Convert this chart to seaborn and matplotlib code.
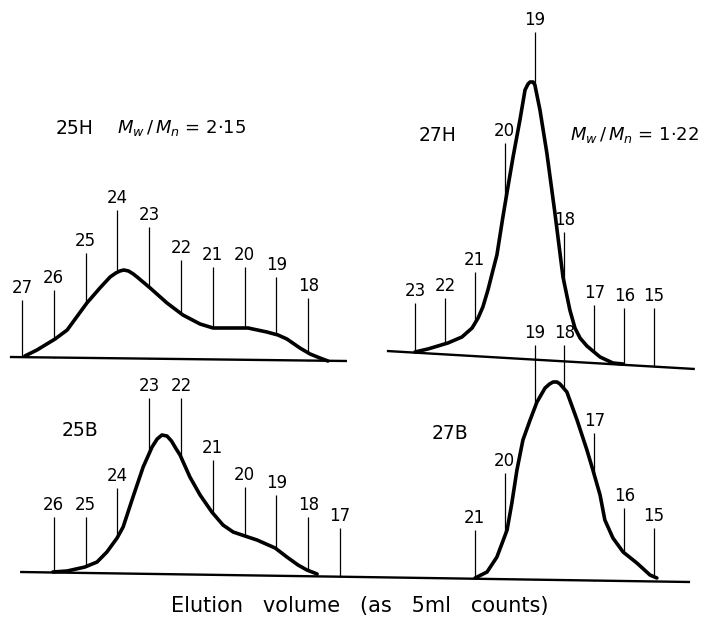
import numpy as np
import matplotlib.pyplot as plt
import seaborn as sns

sns.set_theme(style='white')
plt.rcParams['font.family'] = ['DejaVu Sans']
plt.rcParams['mathtext.fontset'] = 'dejavusans'
plt.rcParams['text.color'] = 'black'

# elution count (5 ml counts) vs detector response
h25_counts = [26.91, 26.53, 25.96, 25.58, 24.96, 24.55, 24.23, 24.05, 23.92,
              23.80, 23.65, 23.50, 23.38, 22.97, 22.44, 21.94, 21.40, 20.99,
              20.36, 19.89, 19.30, 18.95, 18.67, 18.26, 17.94, 17.63, 17.38]
h25_resp = [1, 7, 18, 27, 54, 69, 80, 84, 86, 87, 86, 83, 80, 69, 54, 42, 33,
            29, 29, 29, 25, 22, 18, 9, 3, -1, -4]
h25_ticks = [27, 26, 25, 24, 23, 22, 21, 20, 19, 18]
h25_tops = [57, 67, 104, 147, 130, 97, 90, 90, 80, 59]
h25_base_c = [16.78, 27.38]
h25_base_y = [-4, 0]

h27_counts = [23.00, 22.57, 21.90, 21.43, 21.09, 20.89, 20.73, 20.56, 20.39,
              20.26, 20.06, 19.92, 19.72, 19.49, 19.32, 19.22, 19.15, 19.05,
              18.99, 18.82, 18.59, 18.32, 18.05, 17.82, 17.65, 17.48, 17.25,
              16.81, 16.38, 16.04]
h27_resp = [5, 8, 14, 20, 29, 39, 50, 67, 87, 102, 140, 165, 200, 237, 267,
            273, 275, 275, 272, 247, 204, 144, 80, 47, 29, 19, 11, 0, -6, -7]
h27_ticks = [23, 22, 21, 20, 19, 18, 17, 16, 15]
h27_tops = [54, 59, 85, 214, 325, 125, 52, 49, 49]
h27_base_c = [13.64, 23.94]
h27_base_y = [-12, 6]

b25_counts = [26.03, 25.58, 25.02, 24.64, 24.33, 24.01, 23.82, 23.51, 23.19,
              22.91, 22.75, 22.60, 22.44, 22.30, 22.15, 22.03, 21.72, 21.40,
              21.03, 20.68, 20.36, 19.99, 19.61, 19.04, 18.67, 18.32, 18.04,
              17.72]
b25_resp = [3, 4, 8, 13, 23, 37, 48, 78, 108, 128, 136, 140, 139, 134, 126,
            120, 98, 80, 63, 50, 43, 39, 35, 27, 18, 10, 5, 1]
b25_ticks = [26, 25, 24, 23, 22, 21, 20, 19, 18, 17]
b25_tops = [58, 58, 87, 177, 177, 115, 88, 80, 58, 47]
b25_base_c = [16.37, 27.06]
b25_base_y = [-2, 3]

b27_counts = [20.99, 20.59, 20.26, 19.92, 19.76, 19.59, 19.39, 19.15, 18.92,
              18.65, 18.50, 18.38, 18.25, 18.15, 17.92, 17.58, 17.25, 17.05,
              16.81, 16.65, 16.38, 16.04, 15.58, 15.14, 14.91]
b27_resp = [-3, 3, 18, 45, 72, 105, 135, 155, 173, 187, 191, 193, 193, 191,
            183, 155, 125, 105, 80, 55, 37, 23, 12, 0, -3]
b27_ticks = [21, 20, 19, 18, 17, 16, 15]
b27_tops = [45, 102, 230, 230, 142, 67, 47]
b27_base_c = [13.80, 24.84]
b27_base_y = [-7, -2]

fs = 12


def draw_trace(ax, counts, resp, ticks, tops, base_c, base_y):
    counts = np.asarray(counts, dtype=float)
    ticks = np.asarray(ticks, dtype=float)
    # tick lines run up from the baseline; the white fill hides them under the curve
    ax.vlines(ticks, np.interp(ticks, base_c, base_y), tops,
              color='black', lw=0.9, zorder=2, clip_on=False)
    ax.fill_between(counts, resp, np.interp(counts, base_c, base_y),
                    color='white', lw=0, zorder=3, clip_on=False)
    sns.lineplot(x=counts, y=resp, sort=False, estimator=None, color='black',
                 lw=2.6, ax=ax, zorder=4, clip_on=False)
    ax.plot(base_c, base_y, color='black', lw=1.7, zorder=5,
            solid_capstyle='butt', clip_on=False)
    for t, top in zip(ticks, tops):
        ax.text(t, top + 3, str(int(t)), ha='center', va='bottom', fontsize=fs)


fig = plt.figure(figsize=(7.04, 6.24), dpi=100)

ax_tl = fig.add_axes([0, 0.41506, 0.51136, 0.58494])
ax_tr = fig.add_axes([0.51136, 0.41506, 0.48864, 0.58494])
ax_bl = fig.add_axes([0, 0, 0.51136, 0.40705])
ax_br = fig.add_axes([0.51136, 0, 0.48864, 0.40705])

draw_trace(ax_tl, h25_counts, h25_resp, h25_ticks, h25_tops,
           h25_base_c, h25_base_y)
draw_trace(ax_tr, h27_counts, h27_resp, h27_ticks, h27_tops,
           h27_base_c, h27_base_y)
draw_trace(ax_bl, b25_counts, b25_resp, b25_ticks, b25_tops,
           b25_base_c, b25_base_y)
draw_trace(ax_br, b27_counts, b27_resp, b27_ticks, b27_tops,
           b27_base_c, b27_base_y)

for ax in (ax_tl, ax_bl):
    ax.set_xlim(27.692, 16.371)
for ax in (ax_tr, ax_br):
    ax.set_xlim(24.839, 13.334)
for ax in (ax_tl, ax_tr):
    ax.set_ylim(-8, 357)
for ax in (ax_bl, ax_br):
    ax.set_ylim(-49, 205)
for ax in (ax_tl, ax_tr, ax_bl, ax_br):
    ax.set_axis_off()
    ax.patch.set_alpha(0)

ax_tl.text(25.36, 229, '25H', ha='center', va='center', fontsize=13.5)
ax_tl.text(24.01, 229, r'$M_w\,/\,M_n$ = 2·15', ha='left', va='center',
           fontsize=13)
ax_tr.text(22.26, 222, '27H', ha='center', va='center', fontsize=13.5)
ax_tr.text(17.82, 222, r'$M_w\,/\,M_n$ = 1·22', ha='left', va='center',
           fontsize=13)
ax_bl.text(25.18, 145, '25B', ha='center', va='center', fontsize=13.5)
ax_br.text(21.83, 142, '27B', ha='center', va='center', fontsize=13.5)

fig.text(0.511, 0.0288, 'Elution   volume   (as   5ml   counts)',
         ha='center', va='center', fontsize=15)

fig.savefig('out.png', dpi=100)
